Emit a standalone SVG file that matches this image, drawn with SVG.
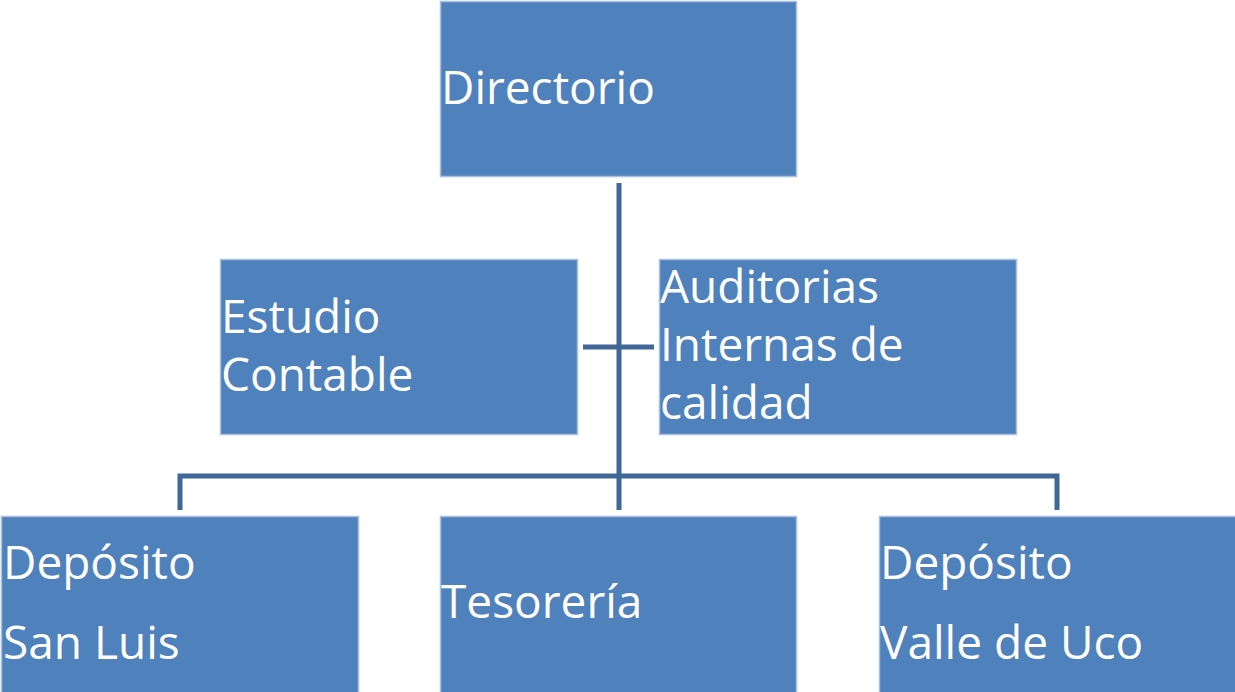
<svg xmlns="http://www.w3.org/2000/svg" width="1235" height="692" viewBox="0 0 1235 692">
<style>
.box{fill:#4F81BD;stroke:#A9C0DE;stroke-width:1.5}
.lbl{fill:#FFFFFF;font-family:"Open Sans","Noto Sans",sans-serif;font-size:46px}
.conn{fill:none;stroke:#3F6797;stroke-width:5}
</style>
<rect width="1235" height="692" fill="#FFFFFF"/>
<g id="connectors">
<path class="conn" d="M619,183 V510"/>
<path class="conn" d="M583,347 H654"/>
<path class="conn" d="M180,510 V476 H1057 V510"/>
</g>
<g id="directorio"><rect class="box" x="440.5" y="1.5" width="356" height="175"/><text class="lbl" x="441" y="104">Directorio</text></g>
<g id="estudio"><rect class="box" x="220.5" y="259.5" width="357" height="175"/><text class="lbl" x="221" y="333">Estudio</text><text class="lbl" x="221" y="391">Contable</text></g>
<g id="auditorias"><rect class="box" x="659.5" y="259.5" width="357" height="175"/><text class="lbl" x="660" y="303">Auditorias</text><text class="lbl" x="660" y="361">Internas de</text><text class="lbl" x="660" y="419">calidad</text></g>
<g id="deposito-sl"><rect class="box" x="1.5" y="516.5" width="357" height="180"/><text class="lbl" x="3" y="579">Depósito</text><text class="lbl" x="3" y="659">San Luis</text></g>
<g id="tesoreria"><rect class="box" x="440.5" y="516.5" width="356" height="180"/><text class="lbl" x="441" y="618">Tesorería</text></g>
<g id="deposito-vu"><rect class="box" x="879.5" y="516.5" width="360" height="180"/><text class="lbl" x="880" y="579">Depósito</text><text class="lbl" x="880" y="659">Valle de Uco</text></g>
</svg>
